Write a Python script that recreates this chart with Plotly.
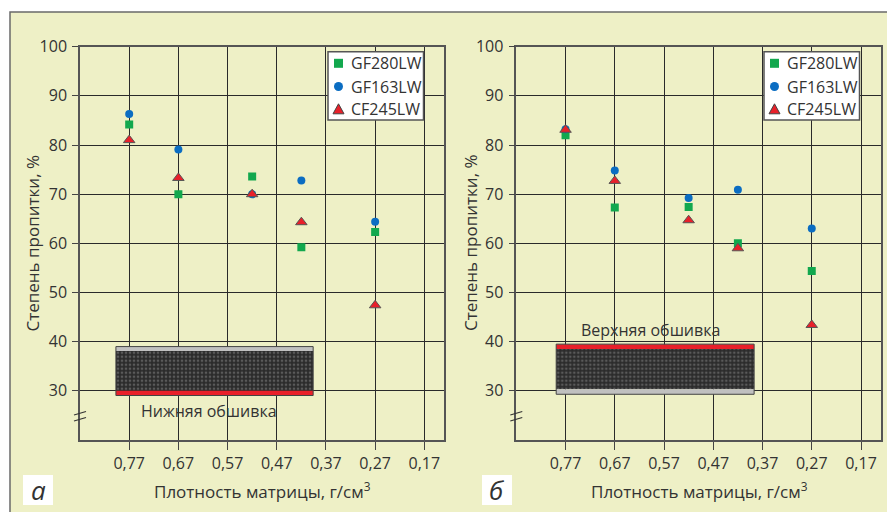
import plotly.graph_objects as go

W, H = 887, 512

# ---------------- data ----------------
density = [0.77, 0.67, 0.52, 0.42, 0.27]
series_names = ["GF280LW", "GF163LW", "CF245LW"]

# panel а (нижняя обшивка)
gf280_a = [84.2, 70.0, 73.6, 59.2, 62.3]
gf163_a = [86.3, 79.1, 70.0, 72.8, 64.4]
cf245_a = [81.0, 73.3, 70.0, 64.3, 47.4]

# panel б (верхняя обшивка)
gf280_b = [82.0, 67.3, 67.4, 60.0, 54.4]
gf163_b = [83.2, 74.8, 69.2, 70.9, 63.0]
cf245_b = [83.1, 72.7, 64.7, 59.0, 43.4]

x_tickvals = [0.77, 0.67, 0.57, 0.47, 0.37, 0.27, 0.17]
x_ticktext = ["0,77", "0,67", "0,57", "0,47", "0,37", "0,27", "0,17"]
y_tickvals = [30, 40, 50, 60, 70, 80, 90, 100]

# schematic sandwich sketches (data coords): x extent, band limits
sketch_a = dict(x=[0.797, 0.396], bottom=[29.05, 30.0], core=[30.0, 38.1], top=[38.1, 39.0])
sketch_b = dict(x=[0.789, 0.387], bottom=[29.3, 30.3], core=[30.3, 38.5], top=[38.5, 39.5])
label_a = "Нижняя обшивка"
label_b = "Верхняя обшивка"

# ---------------- style ----------------
FONT = "Open Sans"
TXT = "#333333"
OUTER_BG = "#eef0c6"
PLOT_BG = "#fbf8d0"
GREEN = "#12a84e"
BLUE = "#0b6dc2"
RED = "#e8202a"
GRID = "#2a2a2a"


def px(x):
    return x / W


def py(y):
    return 1 - y / H


fig = go.Figure()

styles = [
    dict(symbol="square", color=GREEN, size=8, line=dict(width=0)),
    dict(symbol="circle", color=BLUE, size=8, line=dict(width=0)),
    dict(symbol="triangle-up", color=RED, size=10, line=dict(width=1, color="#555555")),
]

panels = [
    ("x", "y", [gf280_a, gf163_a, cf245_a]),
    ("x2", "y2", [gf280_b, gf163_b, cf245_b]),
]

# sketch (dotted core) traces first so markers draw above
for (xa, ya, _), sk in zip(panels, [sketch_a, sketch_b]):
    x0, x1 = sk["x"]
    c0, c1 = sk["core"]
    fig.add_trace(go.Scatter(
        x=[x0, x1, x1, x0, x0], y=[c0, c0, c1, c1, c0],
        fill="toself", mode="lines",
        line=dict(width=0, color="#2b2b2b"),
        fillcolor="#2b2b2b",
        fillpattern=dict(shape=".", fgcolor="#8a8a8a", bgcolor="#2b2b2b", size=4, solidity=0.35),
        xaxis=xa, yaxis=ya, showlegend=False, hoverinfo="skip",
    ))

for xa, ya, vals in panels:
    for name, st, v in zip(series_names, styles, vals):
        fig.add_trace(go.Scatter(
            x=density, y=v, mode="markers", name=name,
            marker=st, xaxis=xa, yaxis=ya, showlegend=False,
        ))

shapes = []
# outer frame / background
shapes.append(dict(type="rect", xref="paper", yref="paper", x0=px(10), x1=1.05, y0=-0.05, y1=py(12),
                   fillcolor=OUTER_BG, line=dict(width=1.5, color="#6a6a6a"), layer="below"))

# band shapes of sketches
for (xa, ya, _), sk, order in zip(panels, [sketch_a, sketch_b], [(RED, "#c0c0c0"), ("#c0c0c0", RED)]):
    x0, x1 = sk["x"]
    bot_col, top_col = order
    shapes.append(dict(type="rect", xref=xa, yref=ya, x0=x0, x1=x1, y0=sk["bottom"][0], y1=sk["bottom"][1],
                       fillcolor=bot_col, line=dict(width=0)))
    shapes.append(dict(type="rect", xref=xa, yref=ya, x0=x0, x1=x1, y0=sk["top"][0], y1=sk["top"][1],
                       fillcolor=top_col, line=dict(width=0)))
    shapes.append(dict(type="rect", xref=xa, yref=ya, x0=x0, x1=x1, y0=sk["bottom"][0], y1=sk["top"][1],
                       fillcolor="rgba(0,0,0,0)", line=dict(width=1, color="#444444")))

# axis break marks
for axx in [80, 516.3]:
    for yy in [411.5, 417.5]:
        shapes.append(dict(type="line", xref="paper", yref="paper",
                           x0=px(axx - 6), y0=py(yy + 3.5), x1=px(axx + 6), y1=py(yy),
                           line=dict(width=1.2, color="#333333")))

# panel letter boxes
for bx in [23, 482]:
    shapes.append(dict(type="rect", xref="paper", yref="paper", x0=px(bx), x1=px(bx + 30),
                       y0=py(505), y1=py(475), fillcolor="white", line=dict(width=0)))

annotations = []

# legends (one per panel), drawn as a boxed key
legend_left = [328, 764]
legend_rows = [63.3, 86.5, 109.3]
for lx in legend_left:
    shapes.append(dict(type="rect", xref="paper", yref="paper", x0=px(lx), x1=px(lx + 95.5),
                       y0=py(120), y1=py(51.7), fillcolor="white",
                       line=dict(width=1.5, color="#555555"), layer="above"))
    mx = lx + 10.5
    for name, st, ry in zip(series_names, styles, legend_rows):
        if st["symbol"] == "square":
            shapes.append(dict(type="rect", xref="paper", yref="paper", x0=px(mx - 4.5), x1=px(mx + 4.5),
                               y0=py(ry + 4.5), y1=py(ry - 4.5), fillcolor=st["color"],
                               line=dict(width=0), layer="above"))
        elif st["symbol"] == "circle":
            shapes.append(dict(type="circle", xref="paper", yref="paper", x0=px(mx - 4.5), x1=px(mx + 4.5),
                               y0=py(ry + 4.5), y1=py(ry - 4.5), fillcolor=st["color"],
                               line=dict(width=0), layer="above"))
        else:
            path = (f"M {px(mx - 5.5)},{py(ry + 4.5)} L {px(mx + 5.5)},{py(ry + 4.5)} "
                    f"L {px(mx)},{py(ry - 5.5)} Z")
            shapes.append(dict(type="path", xref="paper", yref="paper", path=path, fillcolor=st["color"],
                               line=dict(width=1, color="#444444"), layer="above"))
        annotations.append(dict(xref="paper", yref="paper", x=px(lx + 21), y=py(ry), text=name,
                                showarrow=False, xanchor="left", yanchor="middle",
                                font=dict(family=FONT, size=16, color=TXT)))

for cx, letter in [(38, "а"), (497, "б")]:
    annotations.append(dict(xref="paper", yref="paper", x=px(cx), y=py(490), text=f"<i>{letter}</i>",
                            showarrow=False, font=dict(family=FONT, size=26, color=TXT),
                            xanchor="center", yanchor="middle"))
for cx in [262, 699]:
    annotations.append(dict(xref="paper", yref="paper", x=px(cx), y=py(490),
                            text="Плотность матрицы, г/см<sup>3</sup>", showarrow=False,
                            font=dict(family=FONT, size=17, color=TXT), xanchor="center", yanchor="middle"))
for cx in [31.5, 470]:
    annotations.append(dict(xref="paper", yref="paper", x=px(cx), y=py(243),
                            text="Степень пропитки, %", showarrow=False, textangle=-90,
                            font=dict(family=FONT, size=17, color=TXT), xanchor="center", yanchor="middle"))
annotations.append(dict(xref="x", yref="y", x=0.608, y=25.8, text=label_a, showarrow=False,
                        font=dict(family=FONT, size=16, color=TXT), xanchor="center", yanchor="middle"))
annotations.append(dict(xref="x2", yref="y2", x=0.597, y=42.4, text=label_b, showarrow=False,
                        font=dict(family=FONT, size=16, color=TXT), xanchor="center", yanchor="middle"))

xaxis_common = dict(
    range=[0.87, 0.13], tickvals=x_tickvals, ticktext=x_ticktext,
    showgrid=True, gridcolor=GRID, gridwidth=1,
    showline=True, linecolor="#555555", linewidth=1.5, mirror=True,
    ticks="outside", ticklen=8, tickcolor="#444444", tickwidth=1,
    tickfont=dict(family=FONT, size=16, color=TXT), zeroline=False, automargin=False,
)
yaxis_common = dict(
    range=[20, 100], tickvals=y_tickvals,
    showgrid=True, gridcolor=GRID, gridwidth=1,
    showline=True, linecolor="#555555", linewidth=1.5, mirror=True,
    ticks="outside", ticklen=6, tickcolor="#444444", tickwidth=1,
    tickfont=dict(family=FONT, size=16, color=TXT), zeroline=False, automargin=False,
    ticklabelstandoff=2,
)

ydom = [py(440), py(46.7)]

fig.update_layout(
    width=W, height=H,
    margin=dict(l=0, r=0, t=0, b=0, autoexpand=False),
    paper_bgcolor="white",
    plot_bgcolor=PLOT_BG,
    xaxis=dict(domain=[px(80), px(444)], anchor="y", **xaxis_common),
    yaxis=dict(domain=ydom, anchor="x", **yaxis_common),
    xaxis2=dict(domain=[px(516.3), px(880.7)], anchor="y2", **xaxis_common),
    yaxis2=dict(domain=ydom, anchor="x2", **yaxis_common),
    shapes=shapes,
    annotations=annotations,
    showlegend=False,
)

fig.write_html("out.html", config={"displayModeBar": False},
               post_script="document.body.style.margin='0';document.body.style.overflow='hidden';")
